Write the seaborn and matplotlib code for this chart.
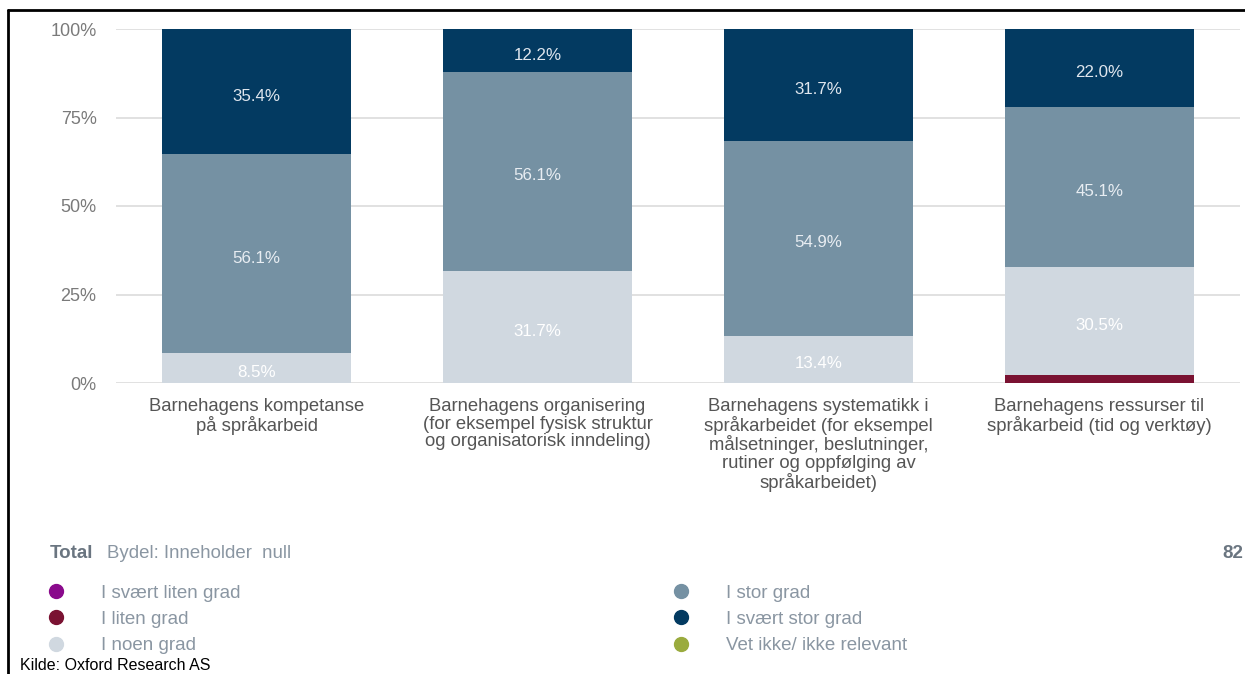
import matplotlib
matplotlib.use("Agg")
import matplotlib.pyplot as plt
import seaborn as sns
import pandas as pd
import numpy as np
from matplotlib.lines import Line2D

categories = [
    "Barnehagens kompetanse\npå språkarbeid",
    "Barnehagens organisering\n(for eksempel fysisk struktur\nog organisatorisk inndeling)",
    "Barnehagens systematikk i\nspråkarbeidet (for eksempel\nmålsetninger, beslutninger,\nrutiner og oppfølging av\nspråkarbeidet)",
    "Barnehagens ressurser til\nspråkarbeid (tid og verktøy)",
]
series_names = ["I svært liten grad", "I liten grad", "I noen grad",
                "I stor grad", "I svært stor grad", "Vet ikke/ ikke relevant"]
svaert_liten = [0.0, 0.0, 0.0, 0.0]
liten = [0.0, 0.0, 0.0, 2.4]
noen = [8.5, 31.7, 13.4, 30.5]
stor = [56.1, 56.1, 54.9, 45.1]
svaert_stor = [35.4, 12.2, 31.7, 22.0]
vet_ikke = [0.0, 0.0, 0.0, 0.0]
ytick_labels = ["0%", "25%", "50%", "75%", "100%"]

colors = ["#8a0a8c", "#7a1232", "#d0d8e0", "#7591a3", "#033a61", "#9aab3e"]
label_colors = [None, None, "#ffffff", "#e8edf2", "#dfe6ee", None]

sns.set_theme(style="white")
plt.rcParams["font.family"] = ["Liberation Sans", "DejaVu Sans"]

fig = plt.figure(figsize=(12.45, 6.74), dpi=100)
ax = fig.add_axes([116 / 1245, 1 - 383 / 674, (1240 - 116) / 1245, (383 - 29) / 674])

values = [svaert_liten, liten, noen, stor, svaert_stor, vet_ikke]
cum = np.cumsum(np.array(values), axis=0)

# draw cumulative stacks from top to bottom so lower layers overlay
for i in range(len(series_names) - 1, -1, -1):
    df = pd.DataFrame({"cat": categories, "val": cum[i]})
    sns.barplot(data=df, x="cat", y="val", color=colors[i], saturation=1,
                width=0.67, ax=ax, edgecolor="none", linewidth=0, zorder=2)

# value labels
for i, vals in enumerate(values):
    if label_colors[i] is None:
        continue
    for j, v in enumerate(vals):
        if v < 3:
            continue
        base = cum[i][j] - v
        ax.text(j, base + v / 2, f"{v:.1f}%", ha="center", va="baseline",
                color=label_colors[i], fontsize=12.2, zorder=5,
                transform=ax.transData + matplotlib.transforms.ScaledTranslation(
                    0, -9 / 100, fig.dpi_scale_trans))

ax.set_ylim(0, 100)
ax.set_xlim(-0.5, 3.5)
ax.set_yticks([0, 25, 50, 75, 100])
ax.set_yticklabels(ytick_labels, color="#7a7a7a", fontsize=13)
ax.tick_params(axis="y", length=0, pad=14)
ax.tick_params(axis="x", length=0, pad=11)
ax.set_xticks(range(len(categories)))
ax.set_xticklabels(categories, color="#555555", fontsize=13.3, linespacing=1.04, va="top")
ax.set_xlabel("")
ax.set_ylabel("")
ax.yaxis.grid(True, color="#dcdcdc", linewidth=1.2, zorder=0)
ax.set_axisbelow(True)
for s in ax.spines.values():
    s.set_visible(False)

# header line under chart
fig.text(50 / 1245, 1 - 554 / 674, "Total", color="#6a7580", fontsize=13.5,
         fontweight="bold", va="center")
fig.text(107 / 1245, 1 - 554 / 674, "Bydel: Inneholder  null", color="#8a96a2",
         fontsize=13.4, va="center")
fig.text(1243 / 1245, 1 - 554 / 674, "82", color="#6a7580", fontsize=13.5,
         fontweight="bold", va="center", ha="right")

# legend
handles = [Line2D([0], [0], marker="o", linestyle="none", markersize=10,
                  markerfacecolor=c, markeredgecolor=c) for c in colors]
leg = fig.legend(handles, series_names, loc="upper left",
                 bbox_to_anchor=(37 / 1245, 1 - 575 / 674), ncol=2,
                 frameon=False, fontsize=13.5, handletextpad=1.9,
                 columnspacing=23.0, labelspacing=0.5, borderpad=0,
                 handlelength=1.0)
for t in leg.get_texts():
    t.set_color("#8a96a2")

fig.text(20 / 1245, 1 - 666 / 674, "Kilde: Oxford Research AS", color="black",
         fontsize=11.5, va="center",
         family=["Liberation Sans Narrow", "Liberation Sans", "DejaVu Sans"])

# outer border lines
fig.add_artist(Line2D([8 / 1245, 1], [1 - 10 / 674, 1 - 10 / 674],
                      transform=fig.transFigure, color="black", linewidth=2))
fig.add_artist(Line2D([8 / 1245, 8 / 1245], [0, 1 - 10 / 674],
                      transform=fig.transFigure, color="black", linewidth=2))

fig.savefig("out.png", dpi=100)
